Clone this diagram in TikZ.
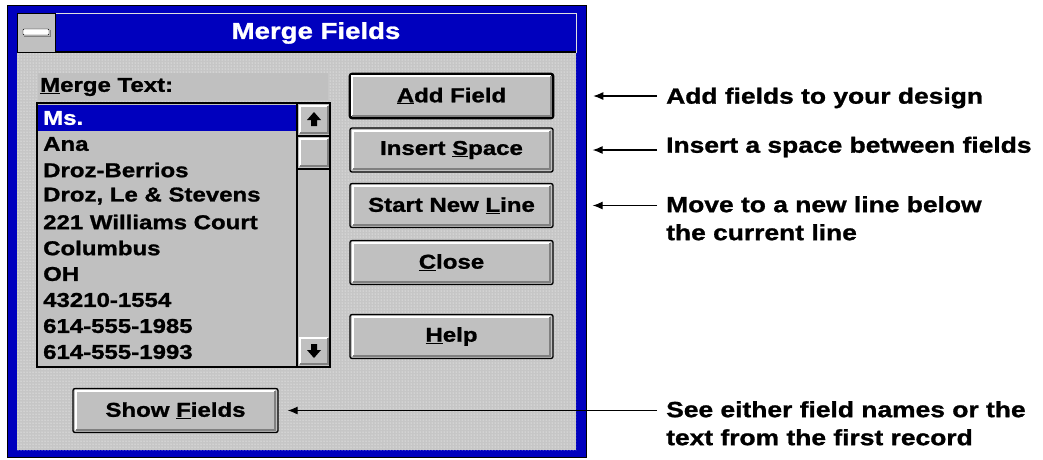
\documentclass[tikz,border=0pt]{standalone}
\usepackage{fontspec}
\setmainfont{Liberation Sans}[FakeStretch=1.2,BoldFeatures={FakeStretch=1.2,FakeBold=1.2}]
\usetikzlibrary{arrows.meta,patterns}
\definecolor{winblue}{RGB}{0,0,190}
\definecolor{facegray}{RGB}{192,192,192}
\definecolor{shadegray}{RGB}{128,128,128}
\definecolor{dotgray}{RGB}{198,198,198}
\begin{document}
\begin{tikzpicture}[x=1pt,y=-1pt,
  font=\fontsize{20}{27}\selectfont\bfseries,
  btn/.style={draw=black,fill=facegray,rounded corners=2pt,line width=1.3pt,
    minimum width=203pt,minimum height=44pt,inner sep=0pt},
  item/.style={anchor=west,inner sep=0pt},
  note/.style={anchor=west,align=left,inner sep=0pt,font=\fontsize{22}{28}\selectfont\bfseries},
  arr/.style={-{Latex[length=10pt,width=8pt]},line width=1.1pt}]
\useasboundingbox (0,0) rectangle (1043,459);
% window frame and title bar
\filldraw[fill=winblue,draw=black,line width=1pt] (7,5) rectangle (586,457);
\fill[dotgray] (17,52) rectangle (576,450);
\fill[pattern=dots,pattern color=white] (17,52) rectangle (576,450);
\filldraw[fill=winblue,draw=white!75!gray,line width=1pt] (17,13) rectangle (576,52);
\draw[line width=1.2pt] (17,52) -- (576,52);
\filldraw[fill=facegray,draw=black] (17,13) rectangle (55,52);
\filldraw[fill=white,draw=black,rounded corners=1pt] (23,29) rectangle (49,35);
\draw[shadegray,line width=1.2pt] (24,36.5) -- (50.5,36.5) -- (50.5,30);
\node[text=white,font=\fontsize{23}{27}\selectfont\bfseries] (title) at (316,33) {Merge Fields};
% list box
\fill[facegray] (38,73) rectangle (328,100);
\node[item] (mtext) at (40,87) {\underline{M}erge Text:};
\filldraw[fill=facegray,draw=black,line width=1.2pt] (37,103) rectangle (330,367);
\fill[winblue] (38,105) rectangle (297,131);
\node[item,text=white] (row0) at (43,118) {Ms.};
\foreach \t [count=\i] in {Ana,Droz-Berrios,{Droz, Le \& Stevens},221 Williams Court,
    Columbus,OH,43210-1554,614-555-1985,614-555-1993}
  \node[item] (row\i) at (43,{118+26*\i}) {\t};
% scroll bar
\draw[line width=1.2pt] (297,103) -- (297,367);
\foreach \a/\b in {104/135,137/168,336/366} {
  \fill[facegray] (298,\a) rectangle (329,\b);
  \draw[white,line width=2pt] (300,\b-2) |- (328,\a+2);
  \draw[shadegray,line width=2pt] (300,\b-2) -| (328,\a+2);
  \draw[line width=1.2pt] (297,\b+1) -- (330,\b+1);
}
\fill (314,112) -- (321,120) -- (317,120) -- (317,126) -- (311,126) -- (311,120) -- (307,120) -- cycle;
\fill (314,358) -- (321,350) -- (317,350) -- (317,344) -- (311,344) -- (311,350) -- (307,350) -- cycle;
% buttons
\node[btn,line width=2.6pt] (add) at (451.5,96) {\underline{A}dd Field};
\node[btn] (ins) at (451.5,150) {Insert \underline{S}pace};
\node[btn] (newl) at (451.5,205.5) {Start New \underline{L}ine};
\node[btn] (close) at (451.5,262.5) {\underline{C}lose};
\node[btn] (help) at (451.5,336.5) {\underline{H}elp};
\node[btn,minimum width=205pt] (show) at (175.5,410.5) {Show \underline{F}ields};
\foreach \b in {add,ins,newl,close,help,show} {
  \draw[white,line width=2pt] ([shift={(3.5,-3.5)}]\b.south west) |- ([shift={(-3.5,3.5)}]\b.north east);
  \draw[shadegray,line width=2pt] ([shift={(3.5,-3.5)}]\b.south west) -| ([shift={(-3.5,3.5)}]\b.north east);
}
% notes
\node[note] (t1) at (666,98) {Add fields to your design};
\node[note] (t2) at (666,147) {Insert a space between fields};
\node[note,anchor=north west] (t3) at (666,196) {Move to a new line below\\the current line};
\node[note,anchor=north west] (t4) at (666,401) {See either field names or the\\text from the first record};
\draw[arr,shorten <=9pt,shorten >=39pt] (t1.west |- add.east) -- (add.east);
\draw[arr,shorten <=9pt,shorten >=39pt] (t2.west |- ins.east) -- (ins.east);
\draw[arr,shorten <=9pt,shorten >=39pt] (t3.west |- newl.east) -- (newl.east);
\draw[arr,shorten <=9pt,shorten >=9pt] (t4.west |- show.east) -- (show.east);
\end{tikzpicture}
\end{document}
